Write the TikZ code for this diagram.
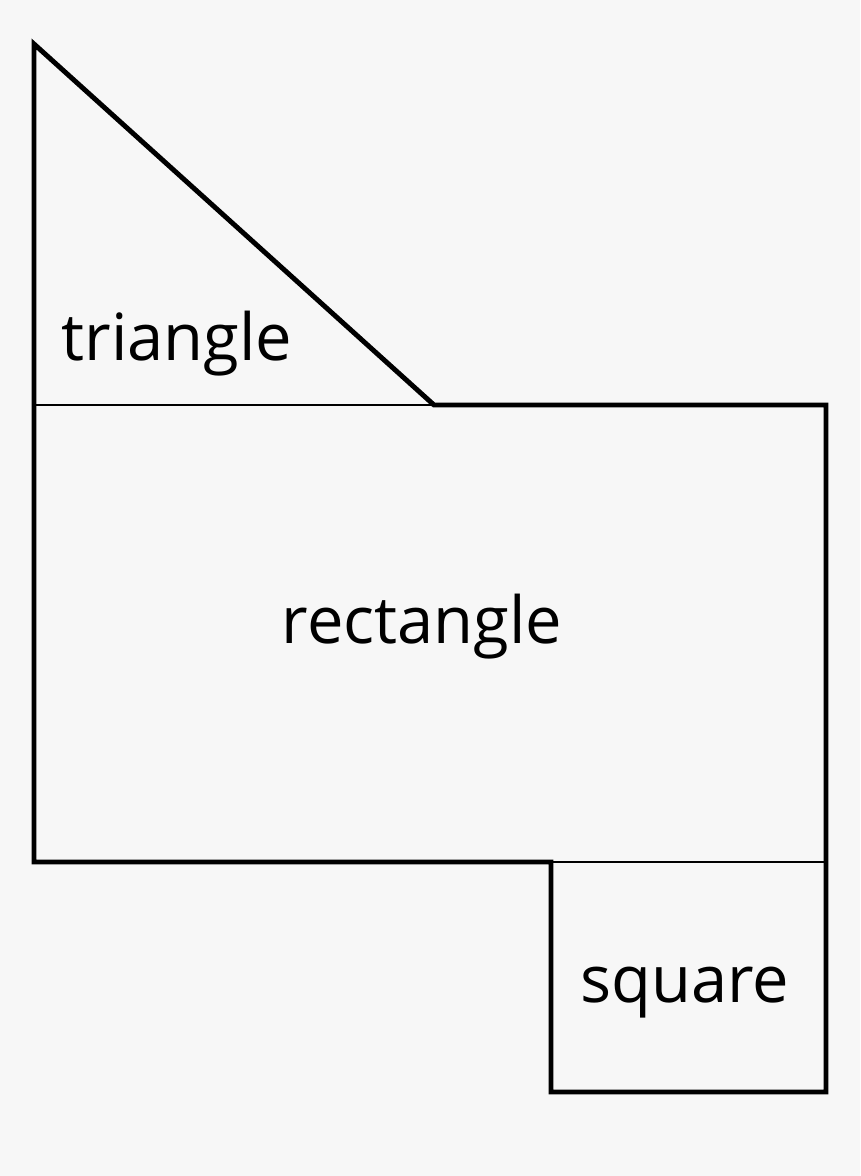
\documentclass[tikz,border=0pt]{standalone}
\usepackage{fontspec}
\setmainfont{Open Sans}
\usetikzlibrary{positioning}

\definecolor{paper}{HTML}{F7F7F7}
\tikzset{
    outline/.style={line width=1.4pt, line join=miter, line cap=rect},
    seam/.style={line width=0.4pt},
    shapelabel/.style={font=\fontsize{18.5}{22}\selectfont, anchor=base}
}

\begin{document}
\begin{tikzpicture}[x=0.01cm, y=-0.01cm]
    % Background
    \fill[paper] (0,0) rectangle (860,1176);
    \useasboundingbox (0,0) rectangle (860,1176);
    % Corners
    \coordinate (apex) at (34,44);
    \coordinate (tl) at (34,405);
    \coordinate (tm) at (434,405);
    \coordinate (tr) at (826,405);
    \coordinate (bl) at (34,862);
    \coordinate (bm) at (551,862);
    \coordinate (br) at (826,862);
    \coordinate (sl) at (551,1092);
    \coordinate (sr) at (826,1092);
    % Outline
    \draw[outline] (tm) -- (apex) -- (bl) -- (bm) -- (sl) -- (sr) -- (tr) -- cycle;
    % Inner seams
    \draw[seam] (tl) -- (tm);
    \draw[seam] (bm) -- (br);
    % Labels
    \node[shapelabel] (triangle) at (177,360) {triangle};
    \node[shapelabel] (rectangle) at (422,643) {rectangle};
    \node[shapelabel] (square) at (685,1002) {square};
\end{tikzpicture}
\end{document}
